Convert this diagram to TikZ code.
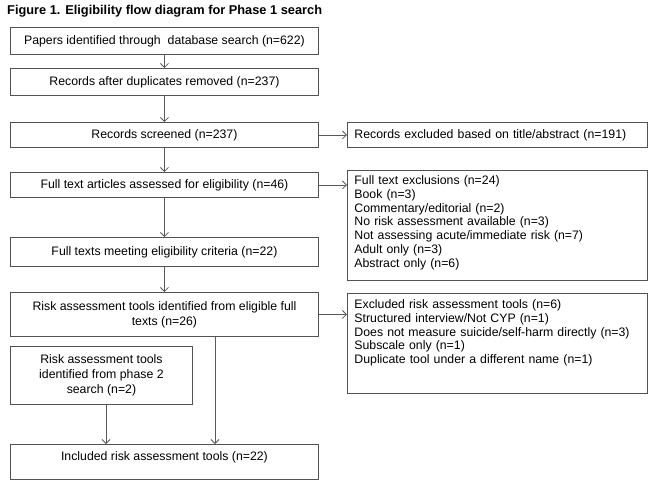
\documentclass[tikz,border=0pt]{standalone}
\usepackage{fontspec}
\setmainfont{Liberation Sans}
\usetikzlibrary{arrows.meta}
\begin{document}
\begin{tikzpicture}[x=1pt,y=-1pt,
  box/.style={draw=black!68, line width=0.9pt, rectangle, inner sep=0pt, anchor=north west,
    font=\fontsize{12.3}{15}\selectfont, align=center},
  single/.style={text height=9pt, text depth=2.5pt},
  lst/.style={draw=black!68, line width=0.9pt, rectangle, anchor=north west, inner xsep=7pt,
    inner ysep=4pt, text width=286pt, align=left, font=\fontsize{12.3}{13.7}\selectfont},
  arr/.style={draw=black!65, line width=0.8pt, -{Straight Barb[length=4pt,width=8pt]}}]
\useasboundingbox (0,0) rectangle (650,480);

\node[anchor=west, inner sep=0pt, font=\fontsize{12.8}{14}\selectfont\bfseries] (title) at (7,11)
  {Figure 1. Eligibility flow diagram for Phase 1 search};

\node[box, single, minimum width=308pt, minimum height=27pt] (b1) at (10,27)
  {Papers identified through\ \ database search (n=622)};
\node[box, single, minimum width=308pt, minimum height=27pt] (b2) at (10,68)
  {Records after duplicates removed (n=237)};
\node[box, single, minimum width=308pt, minimum height=25pt] (b3) at (10,122)
  {Records screened (n=237)};
\node[box, single, minimum width=308pt, minimum height=25pt] (b4) at (10,172)
  {Full text articles assessed for eligibility (n=46)};
\node[box, single, minimum width=308pt, minimum height=29pt] (b5) at (10,237)
  {Full texts meeting eligibility criteria (n=22)};
\node[box, minimum width=308pt, minimum height=44pt] (b6) at (10,292)
  {Risk assessment tools identified from eligible full\\texts (n=26)};
\node[box, minimum width=182pt, minimum height=58pt] (b7) at (10,346)
  {Risk assessment tools\\identified from phase 2\\search (n=2)};
\node[box, minimum width=308pt, minimum height=35pt, text height=9pt, text depth=12pt] (b8) at (10,444)
  {Included risk assessment tools (n=22)};

\node[lst, text height=9pt, text depth=2.5pt, minimum height=25pt] (r1) at (347,122)
  {Records excluded based on title/abstract (n=191)};
\node[lst, text height=10.4pt, text depth=91.6pt] (r2) at (347,170)
  {Full text exclusions (n=24)\\
   Book (n=3)\\
   Commentary/editorial (n=2)\\
   No risk assessment available (n=3)\\
   Not assessing acute/immediate risk (n=7)\\
   Adult only (n=3)\\
   Abstract only (n=6)};
\node[lst, text height=11.4pt, text depth=80.6pt] (r3) at (347,293)
  {Excluded risk assessment tools (n=6)\\
   Structured interview/Not CYP (n=1)\\
   Does not measure suicide/self-harm directly (n=3)\\
   Subscale only (n=1)\\
   Duplicate tool under a different name (n=1)};

\draw[arr] (b1) -- (b2);
\draw[arr] (b2) -- (b3);
\draw[arr] (b3) -- (b4);
\draw[arr] (b4) -- (b5);
\draw[arr] (b5) -- (b6);
\coordinate (c7) at (106,0);
\coordinate (c6) at (215,0);
\draw[arr] (b7.south -| c7) -- (b8.north -| c7);
\draw[arr] (b6.south -| c6) -- (b8.north -| c6);
\draw[arr] (b3) -- (r1);
\draw[arr] (b4.east) -- (b4.east -| r2.west);
\draw[arr] (b6.east) -- (b6.east -| r3.west);
\end{tikzpicture}
\end{document}
